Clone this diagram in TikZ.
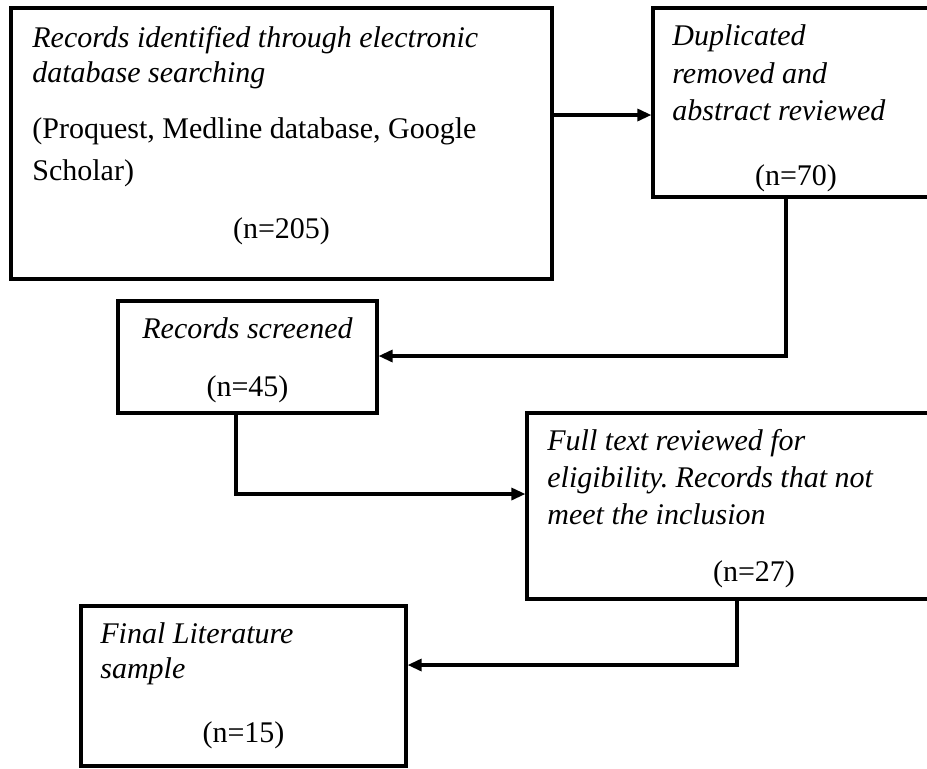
\documentclass[tikz,border=0pt]{standalone}
\usepackage{fontspec}
\setmainfont{Liberation Serif}
\usepackage{tikz}
\usetikzlibrary{arrows.meta,fit}
\frenchspacing

\tikzset{
    box/.style={draw,line width=1.6pt,inner sep=0pt},
    txt/.style={inner sep=0pt,anchor=base west,font=\fontsize{15}{18}\selectfont\itshape},
    rom/.style={inner sep=0pt,anchor=base west,font=\fontsize{15}{18}\selectfont},
    num/.style={inner sep=0pt,anchor=base,font=\fontsize{15}{18}\selectfont},
    arr/.style={line width=1.6pt,-{Triangle[length=7pt,width=6pt]}}
}

\begin{document}
\begin{tikzpicture}[x=0.5pt,y=-0.5pt]
    \clip (0,0) rectangle (927,768);
    % boxes
    \node[box,fit={(11,8) (552,279)}](A){};
    \node[box,fit={(653,8) (940,197)}](B){};
    \node[box,fit={(118,301) (377,413)}](C){};
    \node[box,fit={(527,413) (982,599)}](D){};
    \node[box,fit={(81,606) (406,766)}](E){};
    % texts
    \node[txt](a1) at (32,47){Records identified through electronic};
    \node[txt](a2) at (32,82){database searching};
    \node[rom](a3) at (32,138){(Proquest, Medline database, Google};
    \node[rom](a4) at (32,180){Scholar)};
    \node[num](an) at (A.center |- 0,238){(n=205)};
    \node[txt](b1) at (672,45){Duplicated};
    \node[txt](b2) at (672,83){removed and};
    \node[txt](b3) at (672,120){abstract reviewed};
    \node[num](bn) at (796,185){(n=70)};
    \node[num,font=\fontsize{15}{18}\selectfont\itshape](c1) at (C.center |- 0,338){Records screened};
    \node[num](cn) at (C.center |- 0,396){(n=45)};
    \node[txt](d1) at (547,450){Full text reviewed for};
    \node[txt](d2) at (547,487){eligibility. Records that not};
    \node[txt](d3) at (547,524){meet the inclusion};
    \node[num](dn) at (754,581){(n=27)};
    \node[txt](e1) at (100,643){Final Literature};
    \node[txt](e2) at (100,678){sample};
    \node[num](en) at (E.center |- 0,742){(n=15)};
    % connectors
    \coordinate(ab) at (600,115);
    \coordinate(bc) at (786,356);
    \coordinate(cd) at (236,494);
    \coordinate(de) at (737,665);
    \draw[arr] (ab -| A.east) -- (ab -| B.west);
    \draw[arr] (bc |- B.south) -- (bc) -- (bc -| C.east);
    \draw[arr] (cd |- C.south) -- (cd) -- (cd -| D.west);
    \draw[arr] (de |- D.south) -- (de) -- (de -| E.east);
\end{tikzpicture}
\end{document}
